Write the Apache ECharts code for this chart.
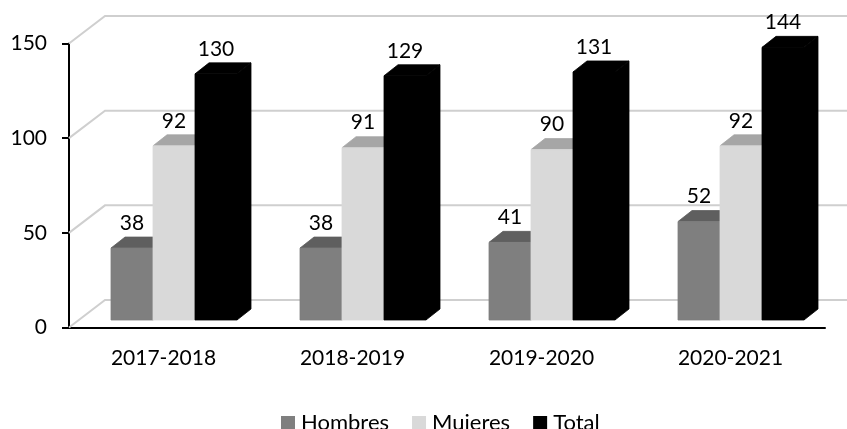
<!DOCTYPE html>
<html lang="es">

<head>
  <meta charset="UTF-8">
  <title>Hombres y Mujeres</title>
  <script src="https://cdn.jsdelivr.net/npm/echarts@6/dist/echarts.min.js"></script>
  <style>
    html, body { margin: 0; padding: 0; background: #fff; }
    #chart { width: 847px; height: 429px; }
  </style>
</head>

<body>
  <div id="chart"></div>
  <script>
    const categories = ['2017-2018', '2018-2019', '2019-2020', '2020-2021']
    const hombres = [38, 38, 41, 52]
    const mujeres = [92, 91, 90, 92]
    const total = [130, 129, 131, 144]
    const yTicks = [0, 50, 100, 150]

    const font = 'Lato'
    const myEcharts = echarts.init(document.getElementById('chart'))

    // 3D look: the wall sits behind the axis, the bars in the middle of the floor
    const wallX = 36, wallY = 27.5
    const floorX = 10.5, floorY = 7.5
    const depthX = 14, depthY = 11

    function poly(points, color) {
      // same colour stroke hides the seams between faces
      return { type: 'polygon', shape: { points }, style: { fill: color, stroke: color, lineWidth: 0.8 } }
    }

    function barSeries(name, values, index, front, top, side) {
      return {
        name,
        type: 'custom',
        itemStyle: { color: front },
        data: values.map((v, i) => [i, v]),
        encode: { x: 0, y: 1 },
        renderItem(params, api) {
          const p = api.coord([api.value(0), api.value(1)])
          const base = api.coord([api.value(0), 0])
          const w = api.size([1, 0])[0] * 2 / 9
          const x = p[0] + floorX - w * 1.5 + w * index
          const y = p[1] - floorY
          const y0 = base[1] - floorY
          return {
            type: 'group',
            children: [
              poly([[x + w, y], [x + w + depthX, y - depthY], [x + w + depthX, y0 - depthY], [x + w, y0]], side),
              poly([[x, y], [x + depthX, y - depthY], [x + w + depthX, y - depthY], [x + w, y]], top),
              poly([[x, y], [x + w, y], [x + w, y0], [x, y0]], front),
              {
                type: 'text',
                z2: 10,
                style: {
                  x: x + w / 2,
                  y: y - 25,
                  text: String(api.value(1)),
                  fill: '#000',
                  font: '21px ' + font,
                  align: 'center',
                  verticalAlign: 'middle'
                }
              }
            ]
          }
        }
      }
    }

    const option = {
      animation: false,
      legend: {
        data: ['Hombres', 'Mujeres', 'Total'],
        left: 276,
        top: 407,
        icon: 'rect',
        itemWidth: 14,
        itemHeight: 14,
        itemGap: 23,
        textStyle: { fontFamily: font, fontSize: 22, color: '#000', padding: [0, 0, 0, 1] }
      },
      grid: { left: 69, top: 43.5, width: 756, height: 284 },
      xAxis: {
        type: 'category',
        data: categories,
        axisLine: { lineStyle: { color: '#000', width: 2 } },
        axisTick: { show: false },
        axisLabel: { fontFamily: font, fontSize: 21, color: '#000', margin: 20 }
      },
      yAxis: {
        type: 'value',
        min: 0,
        max: 150,
        interval: 50,
        splitLine: { show: false },
        axisLine: { show: true, lineStyle: { color: '#000', width: 2 } },
        axisTick: { show: true, length: 7, lineStyle: { color: '#000', width: 2 } },
        axisLabel: { fontFamily: font, fontSize: 21, color: '#000', margin: 22, padding: [3, 0, 0, 0] }
      },
      series: [
        {
          // back wall lines
          name: 'pared',
          type: 'custom',
          silent: true,
          clip: false,
          data: yTicks.map(v => [0, v]),
          encode: { x: 0, y: 1 },
          renderItem(params, api) {
            const y = api.coord([0, api.value(1)])[1]
            const left = params.coordSys.x
            const right = left + params.coordSys.width
            return {
              type: 'polyline',
              shape: { points: [[left, y], [left + wallX, y - wallY], [right + wallX, y - wallY]] },
              style: { fill: 'none', stroke: '#cfcfcf', lineWidth: 2 }
            }
          }
        },
        barSeries('Hombres', hombres, 0, '#7f7f7f', '#5f5f5f', '#5f5f5f'),
        barSeries('Mujeres', mujeres, 1, '#d9d9d9', '#a6a6a6', '#a6a6a6'),
        barSeries('Total', total, 2, '#000000', '#000000', '#000000')
      ]
    }

    myEcharts.setOption(option)
  </script>
</body>

</html>
